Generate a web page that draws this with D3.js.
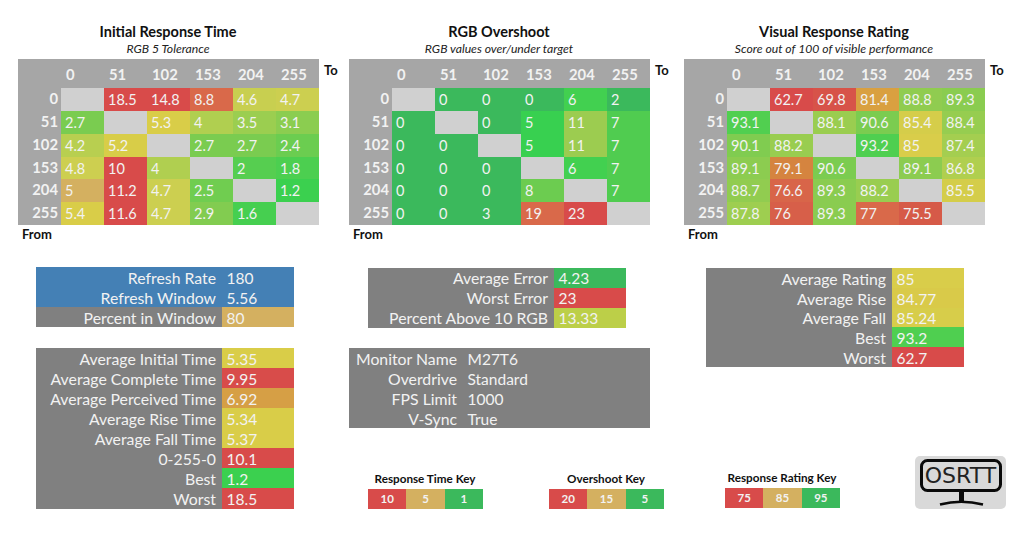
<!DOCTYPE html>
<html>
<head>
<meta charset="utf-8">
<script src="https://cdn.jsdelivr.net/npm/d3@7"></script>
<style>
  html, body { margin: 0; padding: 0; background: #fff; overflow: hidden; }
  text { font-family: Lato, "Open Sans", sans-serif; }
  rect { shape-rendering: crispEdges; }
</style>
</head>
<body>
<svg id="vis" width="1024" height="552"></svg>
<script>
const levels = ["0", "51", "102", "153", "204", "255"];

const initialTime = [
  [null, 18.5, 14.8, 8.8, 4.6, 4.7],
  [2.7, null, 5.3, 4, 3.5, 3.1],
  [4.2, 5.2, null, 2.7, 2.7, 2.4],
  [4.8, 10, 4, null, 2, 1.8],
  [5, 11.2, 4.7, 2.5, null, 1.2],
  [5.4, 11.6, 4.7, 2.9, 1.6, null]
];
const overshoot = [
  [null, 0, 0, 0, 6, 2],
  [0, null, 0, 5, 11, 7],
  [0, 0, null, 5, 11, 7],
  [0, 0, 0, null, 6, 7],
  [0, 0, 0, 8, null, 7],
  [0, 0, 3, 19, 23, null]
];
const rating = [
  [null, 62.7, 69.8, 81.4, 88.8, 89.3],
  [93.1, null, 88.1, 90.6, 85.4, 88.4],
  [90.1, 88.2, null, 93.2, 85, 87.4],
  [89.1, 79.1, 90.6, null, 89.1, 86.8],
  [88.7, 76.6, 89.3, 88.2, null, 85.5],
  [87.8, 76, 89.3, 77, 75.5, null]
];

const refreshLabels = ["Refresh Rate", "Refresh Window", "Percent in Window"];
const refreshValues = [180, 5.56, 80];
const timeLabels = ["Average Initial Time", "Average Complete Time", "Average Perceived Time", "Average Rise Time", "Average Fall Time", "0-255-0", "Best", "Worst"];
const timeValues = [5.35, 9.95, 6.92, 5.34, 5.37, 10.1, 1.2, 18.5];
const errorLabels = ["Average Error", "Worst Error", "Percent Above 10 RGB"];
const errorValues = [4.23, 23, 13.33];
const monitorLabels = ["Monitor Name", "Overdrive", "FPS Limit", "V-Sync"];
const monitorValues = ["M27T6", "Standard", "1000", "True"];
const ratingLabels = ["Average Rating", "Average Rise", "Average Fall", "Best", "Worst"];
const ratingValues = [85, 84.77, 85.24, 93.2, 62.7];

const timeKey = [10, 5, 1];
const overshootKey = [20, 15, 5];
const ratingKey = [75, 85, 95];

const RED = "#d84b4a", TAN = "#d4b060", GREEN = "#3bb95c", BLUE = "#4480b5";
const GREY = "#808080", HEAD = "#a6a6a6", DIAG = "#d0d0d0", INK = "#f2f2f2";

// colour rules read off the cells, not a clean gradient
const timeColor = d3.scaleLinear()
  .domain([1.2, 1.8, 2.7, 4, 4.7, 4.99, 5, 5.01, 5.4, 6.92, 8.8, 10])
  .range(["#3bd04f", "#4ccf50", "#7acc50", "#b0cf50", "#cccf50", "#d0cf50", TAN, "#d8cd48", "#d9cd48", "#d69f45", "#d9694a", RED])
  .clamp(true);
const overshootColor = d3.scaleLinear()
  .domain([0, 4.23, 5, 6, 7, 8, 11, 13.33, 19, 23])
  .range([GREEN, GREEN, "#38d050", "#42d050", "#50cc50", "#6ccc50", "#9ccc50", "#bccf48", "#d9694a", RED])
  .clamp(true);
const ratingColor = d3.scaleLinear()
  .domain([62.7, 75.5, 77, 79.1, 81.4, 85, 85.5, 87, 89, 91, 93.2])
  .range([RED, "#d65a48", "#d9694a", "#d5843f", "#d9a040", "#d9cd4a", "#d4cd4a", "#aacf50", "#8dcc50", "#76cc50", "#4fcf50"])
  .clamp(true);

const svg = d3.select("#vis");

function drawHeatmap(left, title, subtitle, values, color) {
  const g = svg.append("g").attr("transform", `translate(${left},0)`);
  const x = d3.scaleBand().domain(levels).range([43, 301]);
  const y = d3.scaleBand().domain(levels).range([88, 225]);

  g.append("text").attr("x", 150).attr("y", 37).attr("text-anchor", "middle")
    .style("font-weight", "bold").style("font-size", "14.5px").style("fill", "#111").text(title);
  g.append("text").attr("x", 150).attr("y", 53).attr("text-anchor", "middle")
    .style("font-style", "italic").style("font-size", "12.2px").style("fill", "#222").text(subtitle);

  g.append("rect").attr("x", 0).attr("y", 59).attr("width", 301).attr("height", 166).style("fill", HEAD);

  g.selectAll(".col").data(levels).join("text").attr("class", "col")
    .attr("x", d => x(d) + 5).attr("y", 79.5)
    .style("font-weight", "bold").style("font-size", "14.8px").style("fill", INK).text(d => d);
  g.selectAll(".row").data(levels).join("text").attr("class", "row")
    .attr("x", 40).attr("y", d => y(d) + 16).attr("text-anchor", "end")
    .style("font-weight", "bold").style("font-size", "14.8px").style("fill", INK).text(d => d);

  const cells = values.flatMap((r, i) => r.map((v, j) => ({ from: levels[i], to: levels[j], v })));
  g.selectAll(".cell").data(cells).join("rect").attr("class", "cell")
    .attr("x", d => x(d.to)).attr("y", d => y(d.from))
    .attr("width", x.bandwidth()).attr("height", y.bandwidth())
    .style("fill", d => d.v === null ? DIAG : color(d.v));
  g.selectAll(".val").data(cells.filter(d => d.v !== null)).join("text").attr("class", "val")
    .attr("x", d => x(d.to) + 4).attr("y", d => y(d.from) + 17)
    .style("font-size", "14.5px").style("fill", INK).text(d => d.v);

  g.append("text").attr("x", 306).attr("y", 75)
    .style("font-weight", "bold").style("font-size", "13px").style("fill", "#111").text("To");
  g.append("text").attr("x", 4).attr("y", 239)
    .style("font-weight", "bold").style("font-size", "13px").style("fill", "#111").text("From");
}

// label column on the left, value column from split to right
function drawTable(left, split, right, top, labels, values, fillFn, labelFill, rowH = 20.07, base = 16.5) {
  const y = d3.scaleBand().domain(labels).range([top, top + labels.length * rowH]);
  const g = svg.append("g");
  g.selectAll(".lab").data(labels).join("rect").attr("class", "lab")
    .attr("x", left).attr("y", d => y(d)).attr("width", split - left).attr("height", y.bandwidth())
    .style("fill", (d, i) => labelFill ? labelFill(i) : GREY);
  g.selectAll(".box").data(labels).join("rect").attr("class", "box")
    .attr("x", split).attr("y", d => y(d)).attr("width", right - split).attr("height", y.bandwidth())
    .style("fill", (d, i) => fillFn(values[i], i));
  g.selectAll(".labt").data(labels).join("text").attr("class", "labt")
    .attr("x", split - 6).attr("y", d => y(d) + base).attr("text-anchor", "end")
    .style("font-size", "15.8px").style("fill", INK).text(d => d);
  g.selectAll(".valt").data(labels).join("text").attr("class", "valt")
    .attr("x", split + 4.5).attr("y", d => y(d) + base)
    .style("font-size", "15.5px").style("fill", INK).text((d, i) => values[i]);
}

function drawKey(left, top, title, values) {
  const x = d3.scaleBand().domain(values).range([left, left + 115]);
  const g = svg.append("g");
  g.append("text").attr("x", left + 57).attr("y", top - 6).attr("text-anchor", "middle")
    .style("font-weight", "bold").style("font-size", "11.7px").style("fill", "#111").text(title);
  g.selectAll("rect").data(values).join("rect")
    .attr("x", d => x(d)).attr("y", top).attr("width", x.bandwidth()).attr("height", 20)
    .style("fill", (d, i) => [RED, TAN, GREEN][i]);
  g.selectAll(".kt").data(values).join("text").attr("class", "kt")
    .attr("x", d => x(d) + x.bandwidth() / 2).attr("y", top + 14).attr("text-anchor", "middle")
    .style("font-weight", "bold").style("font-size", "11.5px").style("fill", INK).text(d => d);
}

function drawLogo() {
  const g = svg.append("g");
  g.append("rect").attr("x", 915).attr("y", 456).attr("width", 91).attr("height", 53).attr("rx", 5)
    .style("fill", "#d9d9d9").style("shape-rendering", "auto");
  g.append("rect").attr("x", 921.5).attr("y", 460.5).attr("width", 79).attr("height", 30).attr("rx", 6)
    .style("fill", "none").style("stroke", "#0a0a0a").style("stroke-width", 3).style("shape-rendering", "auto");
  g.append("rect").attr("x", 959).attr("y", 491).attr("width", 5).attr("height", 12).style("fill", "#0a0a0a");
  g.append("path").attr("d", "M940,504.5 Q961,499 983,504.5")
    .style("fill", "none").style("stroke", "#0a0a0a").style("stroke-width", 2.5);
  g.append("text").attr("x", 960.5).attr("y", 483).attr("text-anchor", "middle")
    .style("font-family", "'DejaVu Sans'").style("font-size", "22px").style("fill", "#222").text("OSRTT");
}

drawHeatmap(18, "Initial Response Time", "RGB 5 Tolerance", initialTime, timeColor);
drawHeatmap(349, "RGB Overshoot", "RGB values over/under target", overshoot, overshootColor);
drawHeatmap(684, "Visual Response Rating", "Score out of 100 of visible performance", rating, ratingColor);

drawTable(35.5, 222, 294, 267, refreshLabels, refreshValues,
  (v, i) => i < 2 ? BLUE : TAN, i => i < 2 ? BLUE : GREY);
drawTable(35.5, 222, 294, 348, timeLabels, timeValues, v => timeColor(v));
drawTable(368, 554, 626, 267.5, errorLabels, errorValues, v => overshootColor(v));
drawTable(349, 463, 650, 348, monitorLabels, monitorValues, () => GREY);
drawTable(706, 892, 964, 268, ratingLabels, ratingValues, v => ratingColor(v), null, 19.8, 16.8);

drawKey(368, 489, "Response Time Key", timeKey);
drawKey(549, 489, "Overshoot Key", overshootKey);
drawKey(725, 488, "Response Rating Key", ratingKey);
drawLogo();
</script>
</body>
</html>
